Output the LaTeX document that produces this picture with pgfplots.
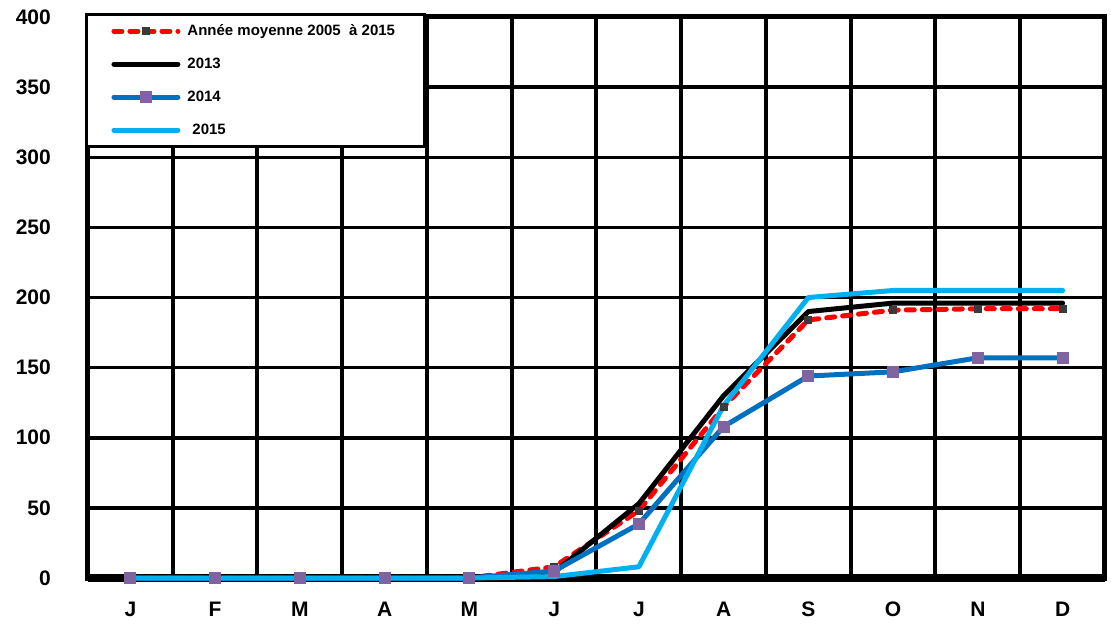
\documentclass[border=0pt]{standalone}
\usepackage{fontspec}
\setmainfont{Liberation Sans}
\usepackage{pgfplots}
\pgfplotsset{compat=1.18}
\definecolor{avgmark}{RGB}{58,58,58}
\definecolor{c2014}{RGB}{0,112,192}
\definecolor{m2014}{RGB}{128,100,162}
\definecolor{c2015}{RGB}{0,176,240}
\begin{document}
\begin{tikzpicture}
\begin{axis}[
  scale only axis, width=1017pt, height=561pt,
  xmin=0.5, xmax=12.5, ymin=0, ymax=400,
  xtick={1,...,12}, xticklabels={J,F,M,A,M,J,J,A,S,O,N,D},
  minor xtick={1.5,2.5,...,11.5},
  xminorgrids=true, ymajorgrids=true,
  ytick={0,50,...,400},
  grid style={black, line width=3.5pt},
  minor grid style={black, line width=4pt},
  axis line style={black, line width=5pt},
  major tick length=0pt, minor tick length=0pt,
  tick label style={font=\fontsize{21}{25}\selectfont\bfseries},
  /pgf/number format/assume math mode=true,
  yticklabel style={inner sep=0pt, xshift=-37pt, anchor=east},
  xticklabel style={inner sep=0pt, yshift=-24pt, anchor=north},
  clip=false,
  legend cell align=left,
  legend image code/.code={\draw[mark repeat=2,mark phase=2,#1] plot coordinates {(0pt,0pt) (32pt,0pt) (64pt,0pt)};},
  legend style={at={(-0.003,1.007)}, anchor=north west, draw=black, line width=3pt, fill=white,
    inner xsep=25pt, inner ysep=0pt, row sep=0pt, column sep=3pt,
    font=\fontsize{15}{18}\selectfont\bfseries,
    nodes={minimum height=33pt, inner ysep=0pt, inner xsep=4pt}},
]
\draw[black, line width=8pt] (rel axis cs:0,0) -- (rel axis cs:1,0);
\addplot[red, line width=5pt, dash pattern=on 8pt off 8pt, line cap=round,
  mark=square*, mark size=3.5pt, mark options={solid, fill=avgmark, draw=avgmark, line width=0pt}]
  coordinates {(1,0) (2,0) (3,0) (4,0) (5,0) (6,8) (7,48) (8,122) (9,184) (10,191) (11,192) (12,192)};
\addlegendentry{Année moyenne 2005~~à 2015}
\addplot[black, line width=5pt, line join=round, line cap=round]
  coordinates {(1,0) (2,0) (3,0) (4,0) (5,0) (6,4) (7,53) (8,130) (9,190) (10,196) (11,196) (12,196)};
\addlegendentry{2013}
\addplot[c2014, line width=5pt, line join=round, line cap=round,
  mark=square*, mark size=5.5pt, mark options={fill=m2014, draw=m2014, line width=0pt}]
  coordinates {(1,0) (2,0) (3,0) (4,0) (5,0) (6,5) (7,38.5) (8,108) (9,144) (10,147) (11,157) (12,157)};
\addlegendentry{2014}
\addplot[c2015, line width=5pt, line join=round, line cap=round]
  coordinates {(1,0) (2,0) (3,0) (4,0) (5,0) (6,1) (7,8) (8,123) (9,200) (10,205) (11,205) (12,205)};
\addlegendentry{\hspace{5pt}2015}
\end{axis}
\pgfresetboundingbox
\path[use as bounding box] ([shift={(-88pt,-47pt)}]current axis.south west) rectangle ([shift={(1023pt,578pt)}]current axis.south west);
\end{tikzpicture}
\end{document}
